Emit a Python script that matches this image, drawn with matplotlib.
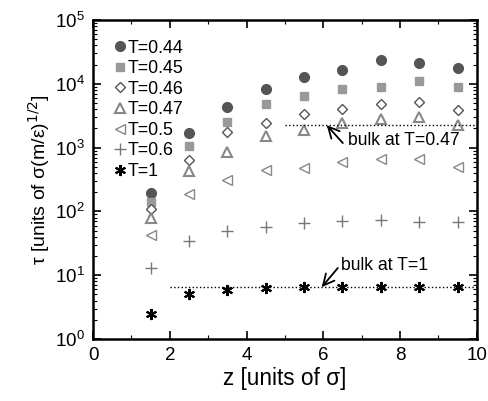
import matplotlib
matplotlib.use("Agg")
import matplotlib.pyplot as plt
from matplotlib.ticker import LogLocator, MultipleLocator, NullFormatter

z = [1.5, 2.5, 3.5, 4.5, 5.5, 6.5, 7.5, 8.5, 9.5]
tau_044 = [195, 1700, 4350, 8300, 12800, 16500, 23600, 21300, 17700]
tau_045 = [140, 1050, 2520, 4800, 6400, 8300, 8900, 11000, 8900]
tau_046 = [109, 640, 1750, 2440, 3370, 4030, 4800, 5200, 3870]
tau_047 = [79, 430, 850, 1520, 1900, 2440, 2800, 3000, 2250]
tau_050 = [43, 187, 310, 446, 480, 594, 660, 660, 500]
tau_060 = [13, 34.5, 49.4, 57, 66, 71, 73, 68, 68]
tau_100 = [2.5, 5.1, 5.9, 6.3, 6.5, 6.5, 6.5, 6.5, 6.5]
labels = ["T=0.44", "T=0.45", "T=0.46", "T=0.47", "T=0.5", "T=0.6", "T=1"]

bulk_047 = 2250
bulk_100 = 6.5
bulk_047_range = [5.0, 10.0]
bulk_100_range = [2.0, 10.0]

plt.rcParams['font.family'] = ['Liberation Sans', 'DejaVu Sans']
plt.rcParams['mathtext.fontset'] = 'dejavusans'

fig = plt.figure(figsize=(4.88, 4.01), dpi=100)
ax = fig.add_axes([0.1906, 0.1546, 0.7864, 0.7954])

ax.plot(z, tau_044, 'o', ls='none', color='#555555', ms=7, label=labels[0])
ax.plot(z, tau_045, 's', ls='none', color='#999999', ms=5.5, label=labels[1])
ax.plot(z, tau_046, 'D', ls='none', mfc='white', mec='#555555', mew=1.0, ms=5.5, label=labels[2])
ax.plot(z, tau_047, '^', ls='none', mfc='none', mec='#888888', mew=1.5, ms=7.5, label=labels[3])
ax.plot(z, tau_050, '<', ls='none', mfc='none', mec='#888888', mew=1.0, ms=7, label=labels[4])
ax.plot(z, tau_060, '+', ls='none', color='#777777', mew=1.0, ms=8.5, label=labels[5])
ax.plot(z, tau_100, ls='none', color='black', ms=8, marker=(6, 2, 0), mew=1.5, label=labels[6])

ax.plot(bulk_047_range, [bulk_047, bulk_047], ls=':', color='black', lw=1.0)
ax.plot(bulk_100_range, [bulk_100, bulk_100], ls=':', color='black', lw=1.0)

arrow = dict(arrowstyle='->', color='black', lw=1.3, shrinkA=0, shrinkB=0, mutation_scale=20)
ax.annotate('', xy=(6.09, bulk_047), xytext=(6.51, 1180), arrowprops=arrow)
ax.text(6.64, 1300, 'bulk at T=0.47', fontsize=12.7, va='center', ha='left')
ax.annotate('', xy=(5.96, bulk_100), xytext=(6.38, 13), arrowprops=arrow)
ax.text(6.46, 14.4, 'bulk at T=1', fontsize=12.7, va='center', ha='left')

ax.set_yscale('log')
ax.set_xlim(0, 10)
ax.set_ylim(1, 1e5)
ax.xaxis.set_major_locator(MultipleLocator(2))
ax.xaxis.set_minor_locator(MultipleLocator(1))
ax.yaxis.set_major_locator(LogLocator(base=10, numticks=10))
ax.yaxis.set_minor_locator(LogLocator(base=10, subs=range(2, 10), numticks=20))
ax.yaxis.set_minor_formatter(NullFormatter())

ax.tick_params(which='both', direction='in', top=True, right=True, labelsize=13.5)
ax.tick_params(which='major', length=6, width=1.2, pad=6)
ax.tick_params(which='minor', length=3, width=0.8)
for s in ax.spines.values():
    s.set_linewidth(1.8)

ax.set_xlabel('z [units of σ]', fontsize=16.3, labelpad=2)
ax.set_ylabel(r'τ [units of σ(m/ε)$^{1/2}$]', fontsize=14, labelpad=2)

leg = ax.legend(loc='upper left', frameon=False, fontsize=12.8, handletextpad=0.05,
                handlelength=0.8, labelspacing=0.2, borderaxespad=0.7,
                borderpad=0.4)

fig.savefig('out.png', dpi=100)
